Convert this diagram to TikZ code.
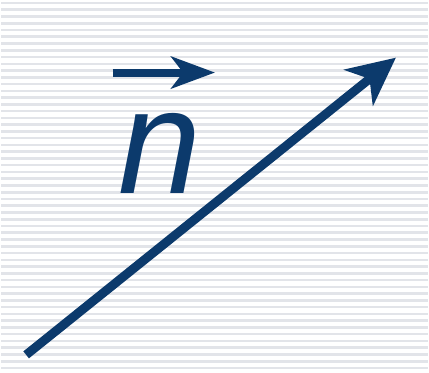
\documentclass[tikz,border=0pt]{standalone}
\usepackage{fontspec}
\setmainfont{Liberation Sans}
\usetikzlibrary{arrows.meta}
\definecolor{vecblue}{RGB}{12,58,108}
\definecolor{stripegray}{RGB}{226,228,233}

\begin{document}
\begin{tikzpicture}[
    x=1pt, y=-1pt,
    stripe/.style={stripegray, line width=2.6pt},
    bigarrow/.style={vecblue, line width=9pt, -{Stealth[length=48pt, width=46pt, inset=14pt]}},
    vecsign/.style={vecblue, line width=8pt, -{Stealth[length=44pt, width=32pt, inset=12pt]}},
    letter/.style={text=vecblue, font=\fontsize{150}{150}\selectfont\itshape, inner sep=0pt}
]

% background with stripes
\fill[white] (0,0) rectangle (429,375);
\foreach \i in {0,...,54}
    \draw[stripe] (0,3+\i*6.8) -- (429,3+\i*6.8);
\useasboundingbox (0,0) rectangle (429,375);

% the vector
\coordinate (tail) at (25,357);
\coordinate (head) at (397,58);
\draw[bigarrow] (tail) -- (head);

% label n with its arrow
\node[letter, anchor=base] (nlabel) at (160,195) {n};
\coordinate (vecL) at (112,73);
\coordinate (vecR) at (215,73);
\draw[vecsign] (vecL) -- (vecR);

\end{tikzpicture}
\end{document}
